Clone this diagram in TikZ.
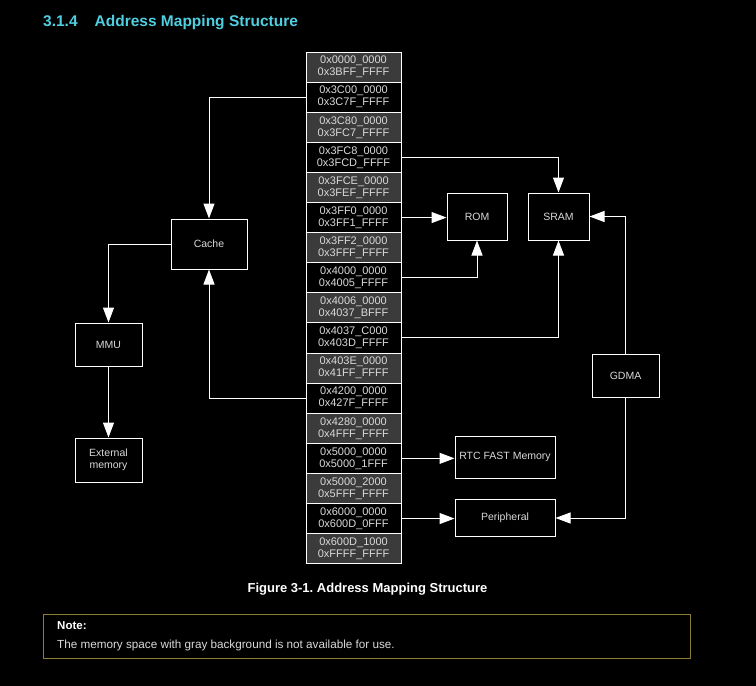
\documentclass[tikz,border=0pt]{standalone}
\usepackage{fontspec}
\setmainfont{Liberation Sans}
\usetikzlibrary{arrows.meta}
\frenchspacing
\definecolor{rowgray}{HTML}{3B3B3B}
\definecolor{titlecyan}{HTML}{4FCFE0}
\definecolor{txtgray}{HTML}{DADADA}
\definecolor{noteolive}{HTML}{8C7D30}
\tikzset{
  box/.style={draw=white, line width=1pt, fill=black, text=txtgray, align=center,
    font=\fontsize{10.5}{12}\selectfont, inner sep=0pt},
  addr/.style={draw=white, line width=1pt, text=txtgray, align=center,
    minimum width=95pt, minimum height=30.1pt, inner sep=0pt,
    font=\fontsize{11}{12}\selectfont},
  conn/.style={draw=white, line width=1pt, -{Triangle[width=11pt,length=15pt]}},
}
\begin{document}
\begin{tikzpicture}[x=1pt,y=-1pt]
\fill[black] (0,0) rectangle (756,686);
\useasboundingbox (0,0) rectangle (756,686);

% title
\node[anchor=base west, inner sep=0pt, text=titlecyan, font=\fontsize{15.5}{18}\bfseries\selectfont] (title) at (43,26) {3.1.4\hspace{17pt}Address Mapping Structure};

% address rows
\foreach \a/\b [count=\i from 0] in {
  0x0000\_0000/0x3BFF\_FFFF,
  0x3C00\_0000/0x3C7F\_FFFF,
  0x3C80\_0000/0x3FC7\_FFFF,
  0x3FC8\_0000/0x3FCD\_FFFF,
  0x3FCE\_0000/0x3FEF\_FFFF,
  0x3FF0\_0000/0x3FF1\_FFFF,
  0x3FF2\_0000/0x3FFF\_FFFF,
  0x4000\_0000/0x4005\_FFFF,
  0x4006\_0000/0x4037\_BFFF,
  0x4037\_C000/0x403D\_FFFF,
  0x403E\_0000/0x41FF\_FFFF,
  0x4200\_0000/0x427F\_FFFF,
  0x4280\_0000/0x4FFF\_FFFF,
  0x5000\_0000/0x5000\_1FFF,
  0x5000\_2000/0x5FFF\_FFFF,
  0x6000\_0000/0x600D\_0FFF,
  0x600D\_1000/0xFFFF\_FFFF}
{
  \ifodd\i \def\rowfill{black}\else\def\rowfill{rowgray}\fi
  \node[addr, fill=\rowfill] (r\i) at (353.5, {52+30.1*\i+15.05}) {\a\\\b};
}

% boxes
\node[box, minimum width=76pt, minimum height=50pt] (cache) at (209,244) {Cache};
\node[box, minimum width=67pt, minimum height=43pt] (mmu) at (108.5,344.5) {MMU};
\node[box, minimum width=67pt, minimum height=44pt] (ext) at (108.5,460) {External\\memory};
\node[box, minimum width=60pt, minimum height=47pt] (rom) at (477,216.5) {ROM};
\node[box, minimum width=61pt, minimum height=47pt] (sram) at (558.5,216.5) {SRAM};
\node[box, minimum width=67pt, minimum height=43pt] (gdma) at (625.5,375.5) {GDMA};
\node[box, minimum width=100pt, minimum height=42pt] (rtc) at (505,457) {RTC FAST Memory};
\node[box, minimum width=100pt, minimum height=37pt] (periph) at (505,518) {Peripheral};

% connectors
\draw[conn] (r1.west) -| (cache.north);
\draw[conn] (r11.west) -| (cache.south);
\draw[conn] (cache.west) -| (mmu.north);
\draw[conn] (mmu.south) -- (ext.north);
\draw[conn] (r3.east) -| (sram.north);
\draw[conn] (r5.east) -- (r5.east -| rom.west);
\draw[conn] (r7.east) -| (rom.south);
\draw[conn] (r9.east) -| (sram.south);
\draw[conn] (gdma.north) |- (sram.east);
\draw[conn] (gdma.south) |- (periph.east);
\draw[conn] (r13.east) -- (r13.east -| rtc.west);
\draw[conn] (r15.east) -- (r15.east -| periph.west);

% caption
\node[text=white, inner sep=0pt, font=\fontsize{13}{15}\bfseries\selectfont] (caption) at (367.5,589) {Figure 3-1. Address Mapping Structure};

% note
\node[draw=noteolive, line width=1pt, minimum width=647pt, minimum height=44pt, inner sep=0pt] (note) at (366.5,636) {};
\node[anchor=west, inner sep=0pt, text=white, font=\fontsize{11.5}{13}\bfseries\selectfont] (notehead) at (57,626) {Note:};
\node[anchor=west, inner sep=0pt, text=txtgray, font=\fontsize{11.7}{13}\selectfont] (notetext) at (57,645) {The memory space with gray background is not available for use.};
\end{tikzpicture}
\end{document}
